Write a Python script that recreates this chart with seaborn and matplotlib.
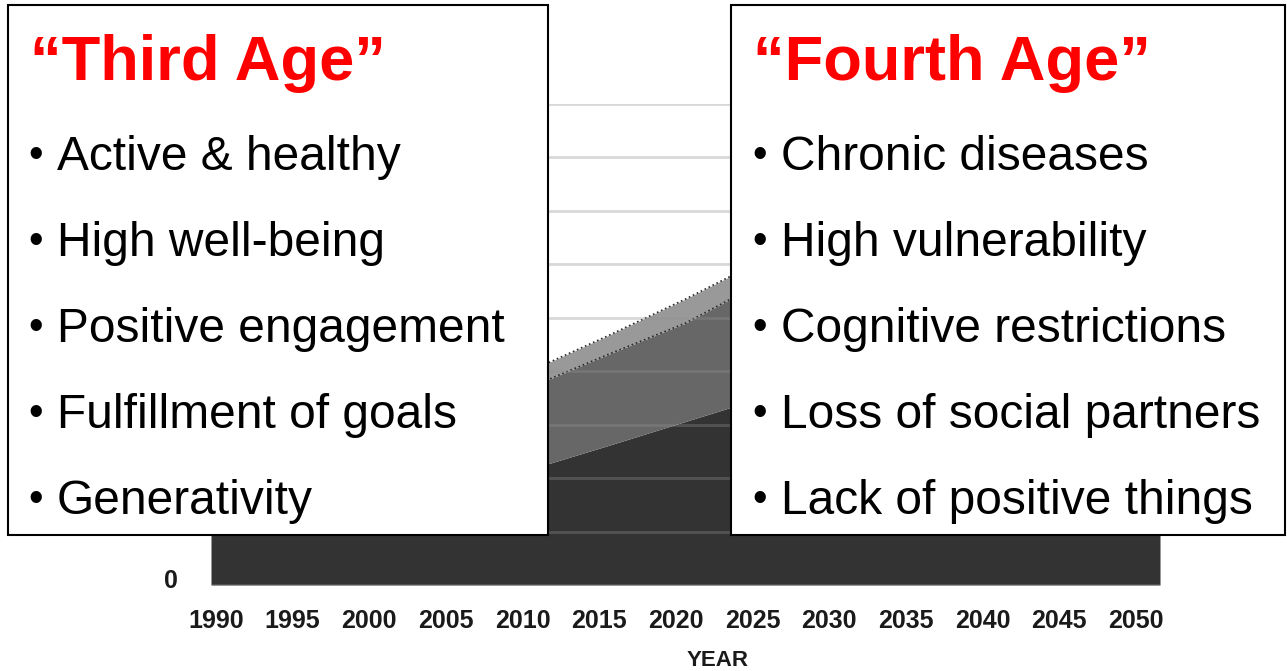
import numpy as np
import seaborn as sns
import matplotlib.pyplot as plt
from matplotlib import font_manager
from matplotlib.patches import Rectangle
from matplotlib.transforms import ScaledTranslation

# Data (stacked layers, gridline units)
years = [1990, 1995, 2000, 2005, 2010, 2015, 2020, 2025, 2030, 2035, 2040, 2045, 2050]
young_old = [1.5, 1.65, 1.8, 1.95, 2.15, 2.6, 3.06, 3.52, 3.95, 4.3, 4.55, 4.7, 4.8]
old_old = [0.9, 0.97, 1.08, 1.25, 1.53, 1.7, 1.84, 2.17, 2.4, 2.6, 2.75, 2.9, 3.05]
oldest_old = [0.2, 0.22, 0.24, 0.28, 0.30, 0.35, 0.45, 0.41, 0.45, 0.5, 0.55, 0.6, 0.6]
y_ticks = list(range(0, 10))
y_labels = ['0'] + [''] * 9   # only the zero label is visible below the boxes

third_title = "\u201cThird Age\u201d"
third_items = ["Active & healthy", "High well-being", "Positive engagement",
               "Fulfillment of goals", "Generativity"]
fourth_title = "\u201cFourth Age\u201d"
fourth_items = ["Chronic diseases", "High vulnerability", "Cognitive restrictions",
                "Loss of social partners", "Lack of positive things"]

sns.set_theme(style="white")
plt.rcParams['font.family'] = ['Liberation Sans', 'DejaVu Sans']

names = {f.name for f in font_manager.fontManager.ttflist}
tick_font = 'Liberation Sans Narrow' if 'Liberation Sans Narrow' in names else 'Liberation Sans'

W, H = 1287, 671
fig = plt.figure(figsize=(W / 100, H / 100), dpi=100)
fig.patch.set_facecolor('white')

# chart area in pixel terms
left, right, top, bottom = 211, 1160, 104, 585
ax = fig.add_axes([left / W, (H - bottom) / H, (right - left) / W, (bottom - top) / H])

ax.stackplot(years, young_old, old_old, oldest_old,
             colors=['#333333', '#676767', '#999999'], linewidth=0, zorder=1)

cum = np.cumsum([young_old, old_old, oldest_old], axis=0)
for level in cum[1:]:
    sns.lineplot(x=years, y=level, ax=ax, color='#2a2a2a', linestyle=':', linewidth=1.2, zorder=2)

ax.set_xlim(years[0], years[-1])
ax.set_ylim(0, 9)
ax.set_xticks(years)
ax.set_xticklabels([])
ax.set_yticks(y_ticks)
ax.set_yticklabels(y_labels)
ax.set_axisbelow(False)
ax.yaxis.grid(True, color='#909090', alpha=0.35, linewidth=2.0)
ax.xaxis.grid(False)
for s in ax.spines.values():
    s.set_visible(False)
ax.tick_params(axis='x', length=0)
ax.tick_params(axis='y', length=0, pad=24)

# year labels sit on a slightly narrower category scale than the area itself
px_per_year = (right - left) / (years[-1] - years[0])
lab_ax = ax.twiny()
lab_ax.set_xlim(years[0] - 5 / px_per_year, years[-1] + 25 / px_per_year)
lab_ax.set_xticks(years)
lab_ax.xaxis.set_ticks_position('bottom')
lab_ax.xaxis.set_label_position('bottom')
lab_ax.tick_params(axis='x', length=0, pad=17)
for s in lab_ax.spines.values():
    s.set_visible(False)
lab_ax.grid(False)

for lab in lab_ax.get_xticklabels() + ax.get_yticklabels():
    lab.set_fontfamily(tick_font)
    lab.set_fontweight('bold')
    lab.set_fontsize(18)
    lab.set_color('#1a1a1a')
shift_up = ScaledTranslation(0, 5 / 72, fig.dpi_scale_trans)
for lab in ax.get_yticklabels():
    lab.set_transform(lab.get_transform() + shift_up)

lab_ax.set_xlabel('YEAR', fontfamily=tick_font, fontweight='bold', fontsize=16, color='#1a1a1a')
lab_ax.xaxis.set_label_coords((718 - left) / (right - left), -(650 - bottom) / (bottom - top))

# overlay with the two text boxes, in pixel coordinates
ov = fig.add_axes([0, 0, 1, 1], zorder=10)
ov.set_xlim(0, W)
ov.set_ylim(H, 0)
ov.axis('off')
ov.patch.set_alpha(0)

boxes = [(8, 5, 540, 530, third_title, third_items, 30, 57),
         (731, 5, 554, 530, fourth_title, fourth_items, 753, 781)]
baselines = [170, 256, 342, 428, 514]
for bx, by, bw, bh, title, items, tx, ix in boxes:
    ov.add_patch(Rectangle((bx, by), bw, bh, facecolor='white', edgecolor='black', linewidth=1.5))
    ov.text(tx, 80, title, color='#ff0000', fontsize=45.5, fontweight='bold', va='baseline', ha='left')
    for item, yb in zip(items, baselines):
        ov.text(ix - 29, yb - 3, '\u2022', color='black', fontsize=30, va='baseline', ha='left')
        ov.text(ix, yb, item, color='black', fontsize=34.5, va='baseline', ha='left')

fig.savefig('out.png', dpi=100)
